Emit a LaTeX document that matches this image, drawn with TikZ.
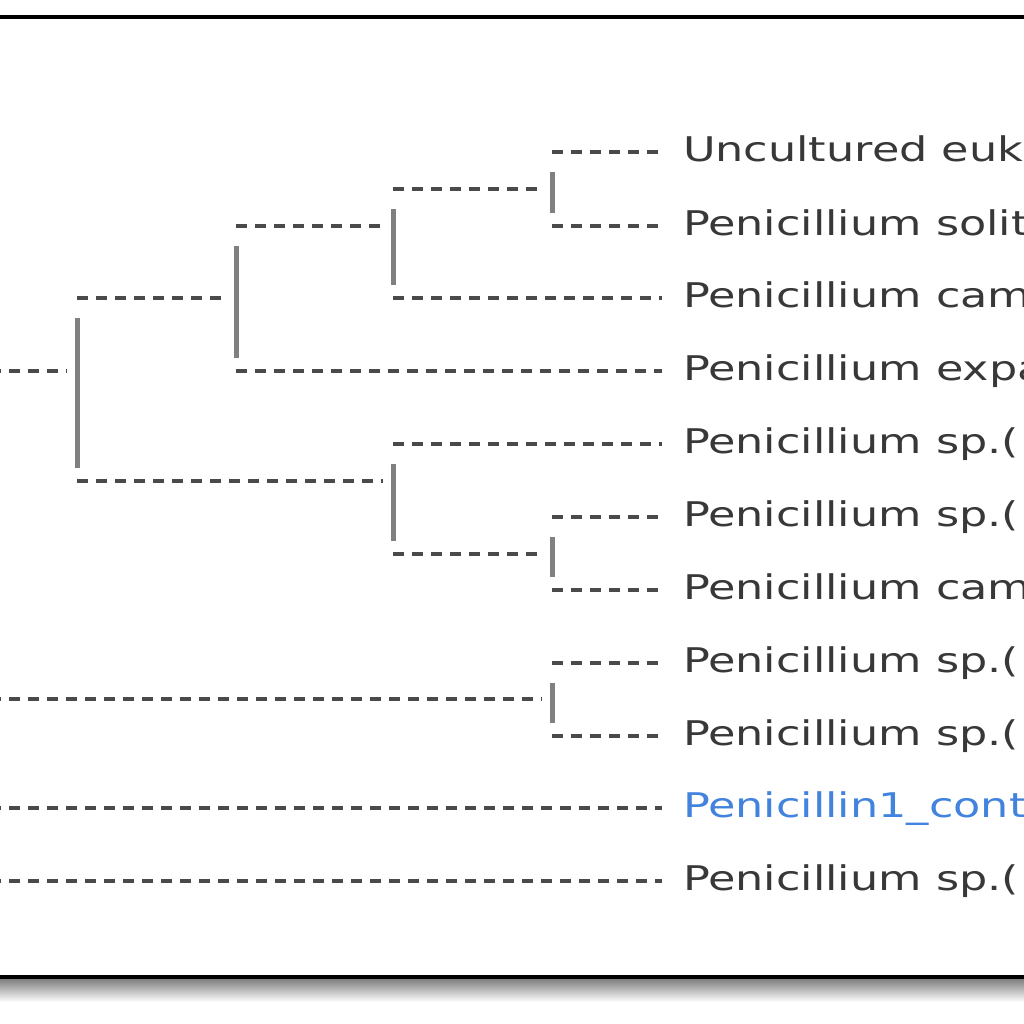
\documentclass[tikz,border=0pt]{standalone}
\usepackage{fontspec}
\newfontfamily\treefont{DejaVu Sans}[FakeStretch=1.31]
\usetikzlibrary{positioning}
\definecolor{leafgray}{HTML}{383838}
\definecolor{leafblue}{HTML}{4283DE}
\definecolor{dashgray}{HTML}{4A4A4A}
\definecolor{bargray}{HTML}{808080}
\tikzset{
  leaf/.style={anchor=west, inner xsep=10.3pt, inner ysep=0pt, text height=12.5pt,
    text depth=3.5pt, text=leafgray, font=\treefont\fontsize{17}{20}\selectfont},
  branch/.style={draw=dashgray, line width=2pt, dash pattern=on 5.5pt off 4pt},
  vbar/.style={draw=bargray, line width=2.5pt}
}
\begin{document}
\begin{tikzpicture}[x=0.5pt, y=-0.5pt]
\useasboundingbox (0,0) rectangle (1024,1024);
\clip (0,0) rectangle (1024,1024);
% frame and its shadow
\shade [top color=black!50, bottom color=white] (-20,979) rectangle (1044,1002);
\draw [line width=2pt] (-20,17) rectangle (1044,977);

% leaves
\node [leaf] (l1) at (662,152) {Uncultured euk};
\node [leaf] (l2) at (662,226) {Penicillium solit};
\node [leaf] (l3) at (662,298) {Penicillium cam};
\node [leaf] (l4) at (662,371) {Penicillium expa};
\node [leaf] (l5) at (662,444) {Penicillium sp.(};
\node [leaf] (l6) at (662,517) {Penicillium sp.(};
\node [leaf] (l7) at (662,590) {Penicillium cam};
\node [leaf] (l8) at (662,663) {Penicillium sp.(};
\node [leaf] (l9) at (662,736) {Penicillium sp.(};
\node [leaf, text=leafblue] (l10) at (662,808) {Penicillin1\_cont};
\node [leaf] (l11) at (662,881) {Penicillium sp.(};

% inner nodes
\coordinate (edge) at (-10,0);
\coordinate (n0) at (77,371);
\coordinate (n1) at (552,189);
\coordinate (n2) at (393,226);
\coordinate (n3) at (236,298);
\coordinate (n4) at (393,481);
\coordinate (n5) at (552,554);
\coordinate (n6) at (552,699);

% branches
\draw [branch] (n1 |- l1) -- (l1.west);
\draw [branch] (n1 |- l2) -- (l2.west);
\draw [branch] (n2 |- n1) -- ([xshift=-5pt]n1);
\draw [branch] (n2 |- l3) -- (l3.west);
\draw [branch] (n3 |- n2) -- ([xshift=-5pt]n2);
\draw [branch] (n3 |- l4) -- (l4.west);
\draw [branch] (n0 |- n3) -- ([xshift=-5pt]n3);
\draw [branch] (n0 |- n4) -- ([xshift=-5pt]n4);
\draw [branch] (n4 |- l5) -- (l5.west);
\draw [branch] (n4 |- n5) -- ([xshift=-5pt]n5);
\draw [branch] (n5 |- l6) -- (l6.west);
\draw [branch] (n5 |- l7) -- (l7.west);
\draw [branch] (edge |- n0) -- ([xshift=-5pt]n0);
\draw [branch] (edge |- n6) -- ([xshift=-5pt]n6);
\draw [branch] (n6 |- l8) -- (l8.west);
\draw [branch] (n6 |- l9) -- (l9.west);
\draw [branch] (edge |- l10) -- (l10.west);
\draw [branch] (edge |- l11) -- (l11.west);

% bars
\draw [vbar] ([yshift=-10pt]n1 |- l1) -- ([yshift=6.5pt]n1 |- l2);
\draw [vbar] ([yshift=-10pt]n2 |- n1) -- ([yshift=6.5pt]n2 |- l3);
\draw [vbar] ([yshift=-10pt]n3 |- n2) -- ([yshift=6.5pt]n3 |- l4);
\draw [vbar] ([yshift=-10pt]n0 |- n3) -- ([yshift=6.5pt]n0 |- n4);
\draw [vbar] ([yshift=-10pt]n4 |- l5) -- ([yshift=6.5pt]n4 |- n5);
\draw [vbar] ([yshift=-10pt]n5 |- l6) -- ([yshift=6.5pt]n5 |- l7);
\draw [vbar] ([yshift=-10pt]n6 |- l8) -- ([yshift=6.5pt]n6 |- l9);
\end{tikzpicture}
\end{document}
